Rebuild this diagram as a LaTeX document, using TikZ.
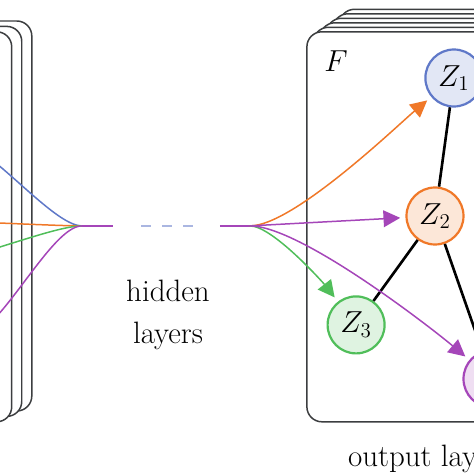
\documentclass[tikz,border=0pt]{standalone}
\definecolor{zblue}{RGB}{95,120,200}
\definecolor{zorange}{RGB}{240,120,40}
\definecolor{zgreen}{RGB}{80,190,90}
\definecolor{zpurple}{RGB}{165,70,185}
\definecolor{hiddengray}{RGB}{170,182,225}
\definecolor{boxgray}{RGB}{60,62,64}
\usetikzlibrary{arrows.meta}
\newcommand{\labelfont}{\fontsize{17.6}{23.8}\selectfont}
\newcommand{\varfont}{\fontsize{17}{20}\selectfont}

\begin{document}
\begin{tikzpicture}[scale=0.6,
    layerbox/.style={draw=boxgray, line width=0.85pt, fill=white, rounded corners=0.3cm},
    zvar/.style={circle, line width=1.25pt, minimum size=1.14cm, inner sep=0pt, font=\varfont},
    flow/.style={line width=0.85pt, looseness=0.5},
    flowarrow/.style={flow, -{Triangle[length=9.5pt,width=9.5pt]}, shorten >=3pt},
    link/.style={line width=1.5pt}]
    \useasboundingbox (0,0) rectangle (15.8,15.8);
    \clip (0,0) rectangle (15.8,15.8);

    % Input layers (stacked)
    \foreach \k in {2,1,0}
        \draw[layerbox] (-4+0.335*\k,1.74+0.18*\k) rectangle (0.39+0.335*\k,14.74+0.18*\k);

    % Output layers (stacked)
    \foreach \k in {5,4,...,0}
        \draw[layerbox] (10.23+0.217*\k,1.74+0.15*\k) rectangle (18.03+0.217*\k,14.74+0.15*\k);
    \node[font=\labelfont] (f) at (11.2,13.77) {$F$};

    % Output variables
    \node[zvar, draw=zblue, fill=zblue!18] (z1) at (15.13,13.2) {$Z_1$};
    \node[zvar, draw=zorange, fill=zorange!18] (z2) at (14.5,8.6) {$Z_2$};
    \node[zvar, draw=zgreen, fill=zgreen!18] (z3) at (11.87,4.97) {$Z_3$};
    \node[zvar, draw=zpurple, fill=zpurple!18] (z4) at (16.4,3.17) {$Z_4$};

    % Edges between the variables
    \draw[link] (z1) -- (z2);
    \draw[link] (z2) -- (z3);
    \draw[link] (z2) -- (z4);

    % Inputs and hidden layers
    \coordinate (x1) at (-1.4,11.07);
    \coordinate (x2) at (-2.0,8.43);
    \coordinate (x3) at (-2.07,7.07);
    \coordinate (x4) at (-1.07,4.6);
    \coordinate (hin) at (2.73,8.27);
    \coordinate (hl) at (3.77,8.27);
    \coordinate (dl) at (4.7,8.27);
    \coordinate (dr) at (6.43,8.27);
    \coordinate (hr) at (7.33,8.27);
    \coordinate (fan) at (8.33,8.27);
    \draw[flow, zblue] (x1) to[out=0,in=180] (hin);
    \draw[flow, zorange] (x2) to[out=0,in=180] (hin);
    \draw[flow, zgreen] (x3) to[out=0,in=180] (hin);
    \draw[flow, zpurple] (x4) to[out=0,in=180] (hin);
    \draw[flow, zpurple] (hin) -- (hl);
    \draw[line width=1.1pt, hiddengray, dash pattern=on 0.2cm off 0.22cm] (dl) -- (dr);
    \draw[flow, zpurple] (hr) -- (fan);
    \node[font=\labelfont, align=center] (hid) at (5.6,5.3) {hidden\\layers};

    % Arrows into the output layer
    \draw[flowarrow, zorange] (fan) to[out=0,in=220] (z1);
    \draw[flowarrow, zpurple] (fan) -- (z2);
    \draw[flowarrow, zgreen] (fan) to[out=0,in=128] (z3);
    \draw[flowarrow, zpurple] (fan) to[out=0,in=140] (z4);
    \node[font=\labelfont, anchor=base] (out) at (14.13,0.24) {output layer};
\end{tikzpicture}
\end{document}
